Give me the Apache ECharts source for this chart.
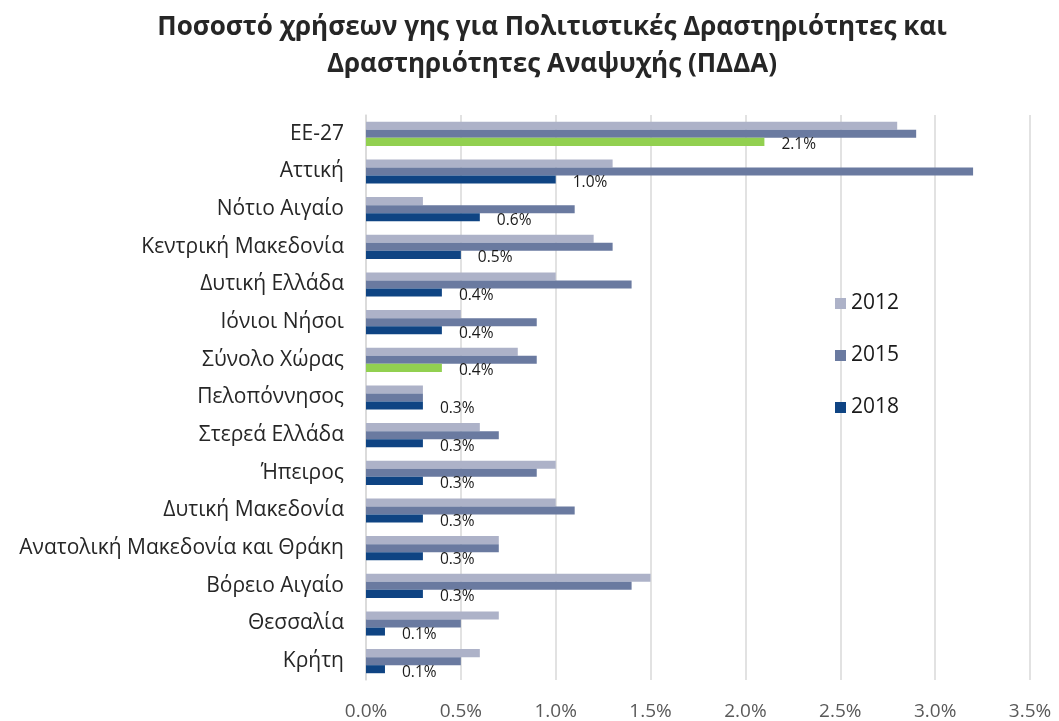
<!DOCTYPE html>
<html>
<head>
<meta charset="utf-8">
<script src="https://cdn.jsdelivr.net/npm/echarts@6/dist/echarts.min.js"></script>
<style>
  html, body { margin: 0; padding: 0; background: #fff; }
  #main { width: 1059px; height: 721px; }
</style>
</head>
<body>
<div id="main"></div>
<script>
// δεδομένα
var categories = ['ΕΕ-27', 'Αττική', 'Νότιο Αιγαίο', 'Κεντρική Μακεδονία', 'Δυτική Ελλάδα',
    'Ιόνιοι Νήσοι', 'Σύνολο Χώρας', 'Πελοπόννησος', 'Στερεά Ελλάδα', 'Ήπειρος',
    'Δυτική Μακεδονία', 'Ανατολική Μακεδονία και Θράκη', 'Βόρειο Αιγαίο', 'Θεσσαλία', 'Κρήτη'];
var years = ['2012', '2015', '2018'];
var values2012 = [2.8, 1.3, 0.3, 1.2, 1.0, 0.5, 0.8, 0.3, 0.6, 1.0, 1.0, 0.7, 1.5, 0.7, 0.6];
var values2015 = [2.9, 3.2, 1.1, 1.3, 1.4, 0.9, 0.9, 0.3, 0.7, 0.9, 1.1, 0.7, 1.4, 0.5, 0.5];
var values2018 = [2.1, 1.0, 0.6, 0.5, 0.4, 0.4, 0.4, 0.3, 0.3, 0.3, 0.3, 0.3, 0.3, 0.1, 0.1];
var highlighted = ['ΕΕ-27', 'Σύνολο Χώρας'];   // πράσινες μπάρες

var colors = ['#adb2c8', '#6a7aa0', '#0f4483'];
var green = '#92d050';

var data2018 = values2018.map(function (v, i) {
    if (highlighted.indexOf(categories[i]) >= 0) {
        return { value: v, itemStyle: { color: green } };
    }
    return v;
});

var myChart = echarts.init(document.getElementById('main'));
var option = {
    animation: false,
    color: colors,
    title: {
        text: 'Ποσοστό χρήσεων γης για Πολιτιστικές Δραστηριότητες και\nΔραστηριότητες Αναψυχής (ΠΔΔΑ)',
        left: 547,
        textAlign: 'center',
        top: 4,
        textStyle: {
            fontFamily: 'Open Sans',
            fontWeight: 'bold',
            fontSize: 26,
            lineHeight: 37,
            color: '#262626'
        }
    },
    legend: {
        orient: 'vertical',
        left: 830,
        top: 288,
        itemGap: 31,
        itemWidth: 11,
        itemHeight: 11,
        icon: 'rect',
        data: years,
        textStyle: { fontFamily: 'Open Sans', fontSize: 21, color: '#1a1a1a' }
    },
    grid: { left: 366, right: 29, top: 115, bottom: 41, containLabel: false },
    xAxis: {
        type: 'value',
        min: 0,
        max: 3.5,
        interval: 0.5,
        axisLine: { show: false },
        axisTick: { show: false },
        splitLine: { lineStyle: { color: '#d9d9d9', width: 1.5 } },
        axisLabel: {
            margin: 22,
            fontFamily: 'Open Sans',
            fontSize: 19,
            color: '#595959',
            formatter: function (v) { return v.toFixed(1) + '%'; }
        }
    },
    yAxis: {
        type: 'category',
        inverse: true,
        data: categories,
        axisLine: { show: true, lineStyle: { color: '#d9d9d9', width: 1.5 } },
        axisTick: { show: false },
        axisLabel: {
            margin: 22,
            fontFamily: 'Open Sans',
            fontSize: 21,
            color: '#262626'
        }
    },
    series: [
        { name: '2012', type: 'bar', data: values2012, barGap: '0%', barCategoryGap: '36%' },
        { name: '2015', type: 'bar', data: values2015, barGap: '0%', barCategoryGap: '36%' },
        {
            name: '2018', type: 'bar', data: data2018, barGap: '0%', barCategoryGap: '36%',
            label: {
                show: true,
                position: 'right',
                distance: 17,
                offset: [0, 3],
                fontFamily: 'Open Sans',
                fontSize: 15.5,
                color: '#1a1a1a',
                formatter: function (p) { return p.value.toFixed(1) + '%'; }
            }
        }
    ]
};
myChart.setOption(option);
</script>
</body>
</html>
